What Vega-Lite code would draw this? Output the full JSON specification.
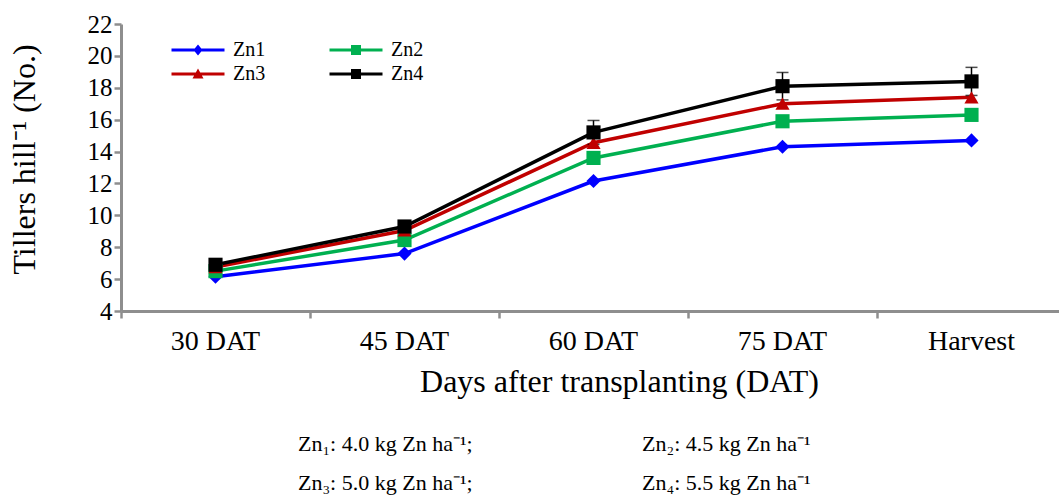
{
  "$schema": "https://vega.github.io/schema/vega-lite/v6.json",
  "autosize": {"type": "none"},
  "padding": {"left": 121, "top": 24, "right": 0, "bottom": 186},
  "width": 938,
  "height": 287,
  "background": "white",
  "config": {
    "view": {"stroke": null},
    "font": "Liberation Serif",
    "axis": {
      "domainColor": "#8e8e8e",
      "domainWidth": 3,
      "tickColor": "#8e8e8e",
      "tickWidth": 2.5,
      "tickSize": 7,
      "grid": false,
      "labelFont": "Liberation Serif",
      "labelFontSize": 25,
      "labelColor": "black",
      "titleFont": "Liberation Serif",
      "titleFontSize": 31,
      "titleFontWeight": "normal",
      "titleColor": "black"
    }
  },
  "title": {
    "text": ["Zn₁: 4.0 kg Zn ha⁻¹;\u2003\u2003\u2003\u2003\u2003\u2003\u2003\u2002\u2009Zn₂: 4.5 kg Zn ha⁻¹", "Zn₃: 5.0 kg Zn ha⁻¹;\u2003\u2003\u2003\u2003\u2003\u2003\u2003\u2002\u2009Zn₄: 5.5 kg Zn ha⁻¹"],
    "orient": "bottom",
    "anchor": "start",
    "frame": "group",
    "dx": 177,
    "offset": 37,
    "fontSize": 22,
    "font": "Liberation Serif",
    "fontWeight": "normal",
    "color": "black",
    "lineHeight": 39
  },
  "data": {
    "values": [
      {"dat": "30 DAT", "series": "Zn1", "value": 6.15},
      {"dat": "45 DAT", "series": "Zn1", "value": 7.6},
      {"dat": "60 DAT", "series": "Zn1", "value": 12.15},
      {"dat": "75 DAT", "series": "Zn1", "value": 14.3},
      {"dat": "Harvest", "series": "Zn1", "value": 14.7},
      {"dat": "30 DAT", "series": "Zn2", "value": 6.5},
      {"dat": "45 DAT", "series": "Zn2", "value": 8.45},
      {"dat": "60 DAT", "series": "Zn2", "value": 13.6},
      {"dat": "75 DAT", "series": "Zn2", "value": 15.9},
      {"dat": "Harvest", "series": "Zn2", "value": 16.3},
      {"dat": "30 DAT", "series": "Zn3", "value": 6.75},
      {"dat": "45 DAT", "series": "Zn3", "value": 9.05},
      {"dat": "60 DAT", "series": "Zn3", "value": 14.55},
      {"dat": "75 DAT", "series": "Zn3", "value": 17.0},
      {"dat": "Harvest", "series": "Zn3", "value": 17.4},
      {"dat": "30 DAT", "series": "Zn4", "value": 6.9, "err": 0.2},
      {"dat": "45 DAT", "series": "Zn4", "value": 9.3, "err": 0.35},
      {"dat": "60 DAT", "series": "Zn4", "value": 15.2, "err": 0.75},
      {"dat": "75 DAT", "series": "Zn4", "value": 18.1, "err": 0.86},
      {"dat": "Harvest", "series": "Zn4", "value": 18.4, "err": 0.88}
    ]
  },
  "encoding": {
    "x": {
      "field": "dat",
      "type": "ordinal",
      "scale": {"type": "band", "domain": ["30 DAT", "45 DAT", "60 DAT", "75 DAT", "Harvest"], "range": [0, 945], "paddingInner": 0, "paddingOuter": 0},
      "axis": {"title": "Days after transplanting (DAT)", "labelAngle": 0, "bandPosition": 0, "labelPadding": 9, "labelFontSize": 28, "titleFontSize": 32, "titlePadding": 11, "titleX": 498, "titleAlign": "center"}
    },
    "y": {
      "field": "value",
      "type": "quantitative",
      "scale": {"domain": [4, 22], "nice": false, "zero": false},
      "axis": {"title": "Tillers hill⁻¹ (No.)", "values": [4, 6, 8, 10, 12, 14, 16, 18, 20, 22], "labelPadding": 2, "titlePadding": 46, "titleFontSize": 32, "titleY": 135}
    }
  },
  "layer": [
    {
      "mark": {"type": "line", "strokeWidth": 3.5},
      "encoding": {
        "color": {"field": "series", "type": "nominal", "scale": {"domain": ["Zn1", "Zn2", "Zn3", "Zn4"], "range": ["#0000ff", "#00b050", "#c00000", "#000000"]}, "legend": null}
      }
    },
    {
      "transform": [{"filter": "datum.series === 'Zn4'"}],
      "mark": {"type": "errorbar", "color": "black", "thickness": 1.5, "ticks": {"size": 12, "color": "black", "thickness": 1.5}},
      "encoding": {
        "y": {"field": "value", "type": "quantitative"},
        "yError": {"field": "err"}
      }
    },
    {
      "mark": {"type": "point", "filled": true, "opacity": 1, "size": 200},
      "encoding": {
        "color": {"field": "series", "type": "nominal", "scale": {"domain": ["Zn1", "Zn2", "Zn3", "Zn4"], "range": ["#0000ff", "#00b050", "#c00000", "#000000"]}, "legend": null},
        "shape": {"field": "series", "type": "nominal", "scale": {"domain": ["Zn1", "Zn2", "Zn3", "Zn4"], "range": ["diamond", "square", "triangle-up", "square"]}, "legend": null}
      }
    },
    {
      "transform": [{"filter": "false"}],
      "mark": {"type": "point", "filled": true, "opacity": 1},
      "encoding": {
        "color": {
          "field": "series", "type": "nominal",
          "scale": {"domain": ["Zn1", "Zn2", "Zn3", "Zn4"], "range": ["#0000ff", "#00b050", "#c00000", "#000000"]},
          "legend": {"orient": "none", "direction": "horizontal", "legendX": 67, "legendY": 16, "columns": 2, "title": null, "symbolSize": 100, "symbolStrokeWidth": 0, "labelFont": "Liberation Serif", "labelFontSize": 20, "labelColor": "black", "labelOffset": 25, "columnPadding": 63, "rowPadding": 4, "padding": 0}
        },
        "shape": {
          "field": "series", "type": "nominal",
          "scale": {"domain": ["Zn1", "Zn2", "Zn3", "Zn4"], "range": [
            "M-5.3,-0.3H5.3V0.3H-5.3Z M0,-1.1L0.9,0L0,1.1L-0.9,0Z",
            "M-5.3,-0.3H5.3V0.3H-5.3Z M-1,-1H1V1H-1Z",
            "M-5.3,-0.3H5.3V0.3H-5.3Z M0,-1.1L1.1,0.9H-1.1Z",
            "M-5.3,-0.3H5.3V0.3H-5.3Z M-1,-1H1V1H-1Z"
          ]},
          "legend": {"orient": "none", "direction": "horizontal", "legendX": 67, "legendY": 16, "columns": 2, "title": null, "symbolSize": 100, "symbolStrokeWidth": 0, "labelFont": "Liberation Serif", "labelFontSize": 20, "labelColor": "black", "labelOffset": 25, "columnPadding": 63, "rowPadding": 4, "padding": 0}
        }
      }
    }
  ],
  "resolve": {"scale": {"color": "independent", "shape": "independent"}}
}
